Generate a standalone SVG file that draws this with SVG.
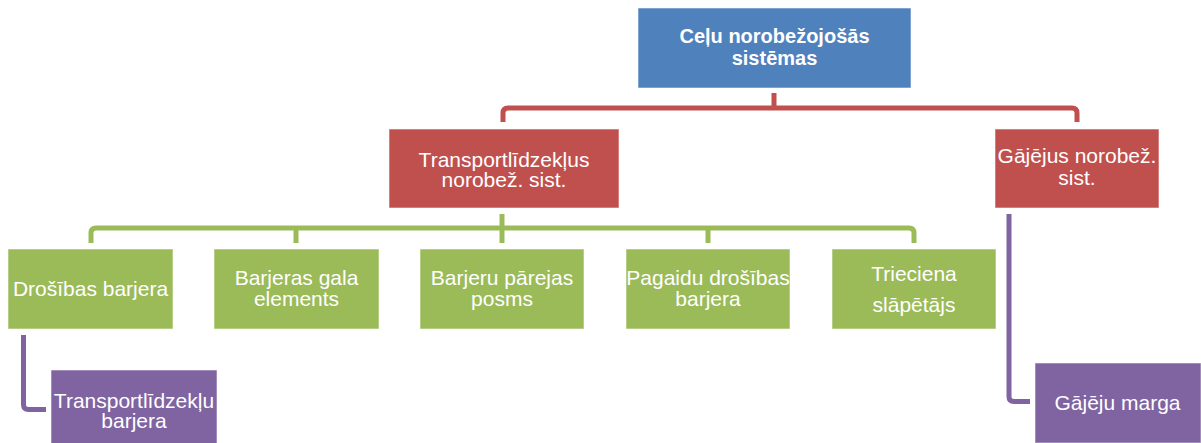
<svg xmlns="http://www.w3.org/2000/svg" width="1201" height="443" viewBox="0 0 1201 443">
<style>
.box{stroke:#ffffff;stroke-opacity:0.55;stroke-width:1}
.blue{fill:#4F81BD}.red{fill:#C0504D}.green{fill:#9BBB59}.purple{fill:#8064A2}
.t{font-family:"Liberation Sans",Arial,sans-serif;font-size:21px;fill:#ffffff;text-anchor:middle}
.b{font-weight:bold;font-size:20px}
.c{fill:none;stroke-width:5;stroke-linejoin:round}
</style>
<rect width="1201" height="443" fill="#ffffff"/>
<g id="connectors">
<path class="c" stroke="#C0504D" d="M774,93 V108 M503,122 V113 Q503,108 508,108 H1072 Q1077,108 1077,113 V122"/>
<path class="c" stroke="#9BBB59" d="M502,214 V243 M91,243 V233 Q91,228 96,228 H909 Q914,228 914,233 V243 M296,228 V243 M708,228 V243"/>
<path class="c" stroke="#8064A2" d="M23.5,335 V404.5 Q23.5,409.5 28.5,409.5 H46"/>
<path class="c" stroke="#8064A2" d="M1009,214 V396.5 Q1009,401.5 1014,401.5 H1030"/>
</g>
<g id="n-root"><rect class="box blue" x="638" y="8" width="273" height="80"/>
<text class="t b" x="774.5" y="43">Ceļu norobežojošās</text><text class="t b" x="774.5" y="65">sistēmas</text></g>
<g id="n-transport"><rect class="box red" x="389" y="129" width="230" height="79"/>
<text class="t" x="504" y="167">Transportlīdzekļus</text><text class="t" x="504" y="187">norobež. sist.</text></g>
<g id="n-gajejus"><rect class="box red" x="995" y="129" width="164" height="79"/>
<text class="t" x="1077" y="163">Gājējus norobež.</text><text class="t" x="1077" y="185">sist.</text></g>
<g id="n-drosibas"><rect class="box green" x="8" y="249" width="165" height="80"/>
<text class="t" x="90.5" y="296">Drošības barjera</text></g>
<g id="n-gala"><rect class="box green" x="214" y="249" width="165" height="80"/>
<text class="t" x="296.5" y="285">Barjeras gala</text><text class="t" x="296.5" y="306">elements</text></g>
<g id="n-parejas"><rect class="box green" x="420" y="249" width="164" height="80"/>
<text class="t" x="502" y="285">Barjeru pārejas</text><text class="t" x="502" y="306">posms</text></g>
<g id="n-pagaidu"><rect class="box green" x="626" y="249" width="164" height="80"/>
<text class="t" x="708" y="285">Pagaidu drošības</text><text class="t" x="708" y="306">barjera</text></g>
<g id="n-trieciena"><rect class="box green" x="832" y="249" width="164" height="80"/>
<text class="t" x="914" y="281">Trieciena</text><text class="t" x="914" y="312">slāpētājs</text></g>
<g id="n-tbarjera"><rect class="box purple" x="51" y="370" width="166" height="80"/>
<text class="t" x="134" y="408">Transportlīdzekļu</text><text class="t" x="134" y="428">barjera</text></g>
<g id="n-marga"><rect class="box purple" x="1035" y="363" width="166" height="80"/>
<text class="t" x="1117.5" y="410">Gājēju marga</text></g>
</svg>
